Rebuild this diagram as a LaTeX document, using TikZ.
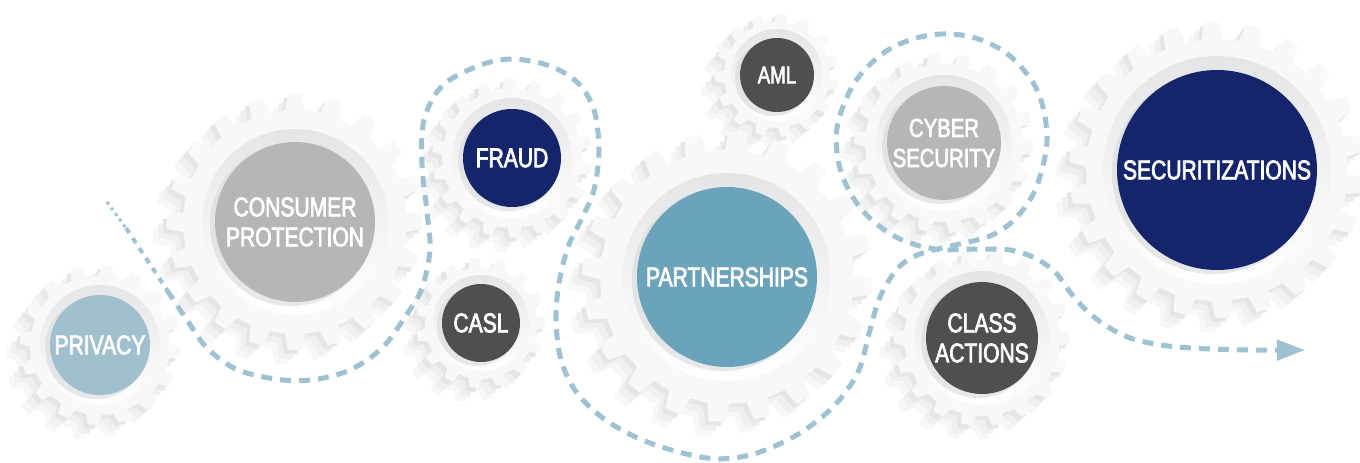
\documentclass[tikz,border=0pt]{standalone}
\usepackage{fontspec}
\setmainfont{Liberation Sans}[FakeStretch=0.78,FakeBold=2.6]
\usetikzlibrary{arrows.meta,positioning}

\definecolor{gearbody}{HTML}{F7F8FA}
\definecolor{gearshadow}{HTML}{D8D9DB}
\definecolor{ringgray}{HTML}{E4E5E7}
\definecolor{trailblue}{HTML}{9FC2D3}
\definecolor{navy}{HTML}{15256B}
\definecolor{slate}{HTML}{4F4F51}
\definecolor{silver}{HTML}{B6B6B6}
\definecolor{partblue}{HTML}{6AA3BA}
\definecolor{paleblue}{HTML}{A0BFCF}

% gear outline: x, y, root radius, tip radius, teeth, turn, style
\newcommand{\gearat}[7]{%
  \fill[#7, shift={(#1,#2)}] ({#6-0.28*360/#5}:#3)
    \foreach \k in {1,...,#5}{
      -- ({#6+(\k-1)*360/#5-0.28*360/#5}:#3)
      -- ({#6+(\k-1)*360/#5-0.17*360/#5}:#4)
      -- ({#6+(\k-1)*360/#5+0.17*360/#5}:#4)
      -- ({#6+(\k-1)*360/#5+0.28*360/#5}:#3)} -- cycle;}

\begin{document}
\begin{tikzpicture}[x=1pt,y=-1pt]
	\tikzstyle{disc}=[circle, inner sep=0pt, text=white, align=center, font=\fontsize{27}{30}\selectfont]
	\tikzstyle{trail}=[draw=trailblue, line width=5pt, dash pattern=on 11pt off 8pt]

	\useasboundingbox (0,0) rectangle (1360,463);
	\clip (0,0) rectangle (1360,463);

	% gears: centre, disc, ring, root, tip, teeth, turn
	\foreach \cx/\cy/\rd/\rg/\rr/\rt/\nt/\tn in {
		100/345/50/60/70/80/16/5,
		295/222/80/93/112/128/20/0,
		512/158/49/60/70/80/18/8,
		481/323/39/48/56/65/15/0,
		777/75/37/46/53/62/15/10,
		727/277/90/104/127/145/20/4,
		944/143/57/68/79/90/18/3,
		982/338/56/67/78/88/18/0,
		1217/170/100/114/131/148/22/6}{
		\gearat{\cx-14}{\cy+14}{\rr}{\rt}{\nt}{\tn}{gearshadow!22}
		\gearat{\cx-9}{\cy+9}{\rr}{\rt}{\nt}{\tn}{gearshadow!40}
		\gearat{\cx-4}{\cy+4}{\rr}{\rt}{\nt}{\tn}{gearshadow!65}
		\gearat{\cx}{\cy}{\rr}{\rt}{\nt}{\tn}{gearbody}
		\shade[top color=ringgray, bottom color=white] (\cx,\cy) circle (\rg);
		\fill[gearshadow, opacity=0.6] (\cx-4,\cy+3) circle (\rd+1);
	}

	\node[disc, fill=paleblue, minimum size=100pt] (privacy) at (100,345) {PRIVACY};
	\node[disc, fill=silver, minimum size=160pt] (consumer) at (295,222) {CONSUMER\\PROTECTION};
	\node[disc, fill=navy, minimum size=98pt] (fraud) at (512,158) {FRAUD};
	\node[disc, fill=slate, minimum size=78pt] (casl) at (481,323) {CASL};
	\node[disc, fill=slate, minimum size=74pt, font=\fontsize{24}{28}\selectfont] (aml) at (777,75) {AML};
	\node[disc, fill=partblue, minimum size=180pt] (partner) at (727,277) {PARTNERSHIPS};
	\node[disc, fill=silver, minimum size=114pt, font=\fontsize{26}{30}\selectfont] (cyber) at (944,143) {CYBER\\SECURITY};
	\node[disc, fill=slate, minimum size=112pt] (class) at (982,338) {CLASS\\ACTIONS};
	\node[disc, fill=navy, minimum size=200pt] (secur) at (1217,170) {SECURITIZATIONS};

	\coordinate (start) at (107,202);
	\coordinate (goal) at (1305,350);

	% the trail, thin at its start
	\draw[trail, line width=3pt, dash pattern=on 3pt off 4pt] (start) -- (126,228);
	\draw[trail, line width=4pt, dash pattern=on 6pt off 6pt] (126,228) -- (167,290);
	\draw[trail, -{Triangle[length=28pt,width=20pt]}] plot[smooth, tension=0.55] coordinates {
		(167,290) (187,320) (207,348) (238,370) (283,380) (318,379) (352,369)
		(383,347) (407,314) (422,288) (430,250) (427,212) (422,165) (424,120)
		(442,86) (478,66) (512,59) (550,66) (578,83) (594,110) (599,150)
		(594,190) (582,218) (568,247) (559,283) (556,320) (561,360) (577,393)
		(607,421) (650,443) (707,458) (750,455) (795,436) (833,407) (858,372)
		(870,330) (880,297) (898,268) (920,254) (955,245) (990,236) (1015,219)
		(1036,188) (1047,140) (1038,92) (1010,56) (972,37) (930,35) (888,50)
		(855,82) (837,128) (841,172) (862,210) (896,237) (935,249) (980,249)
		(1010,250) (1035,258) (1055,272) (1070,292) (1087,311) (1108,327)
		(1133,339) (1168,346) (1210,349) (1250,350) (goal)};
\end{tikzpicture}
\end{document}
